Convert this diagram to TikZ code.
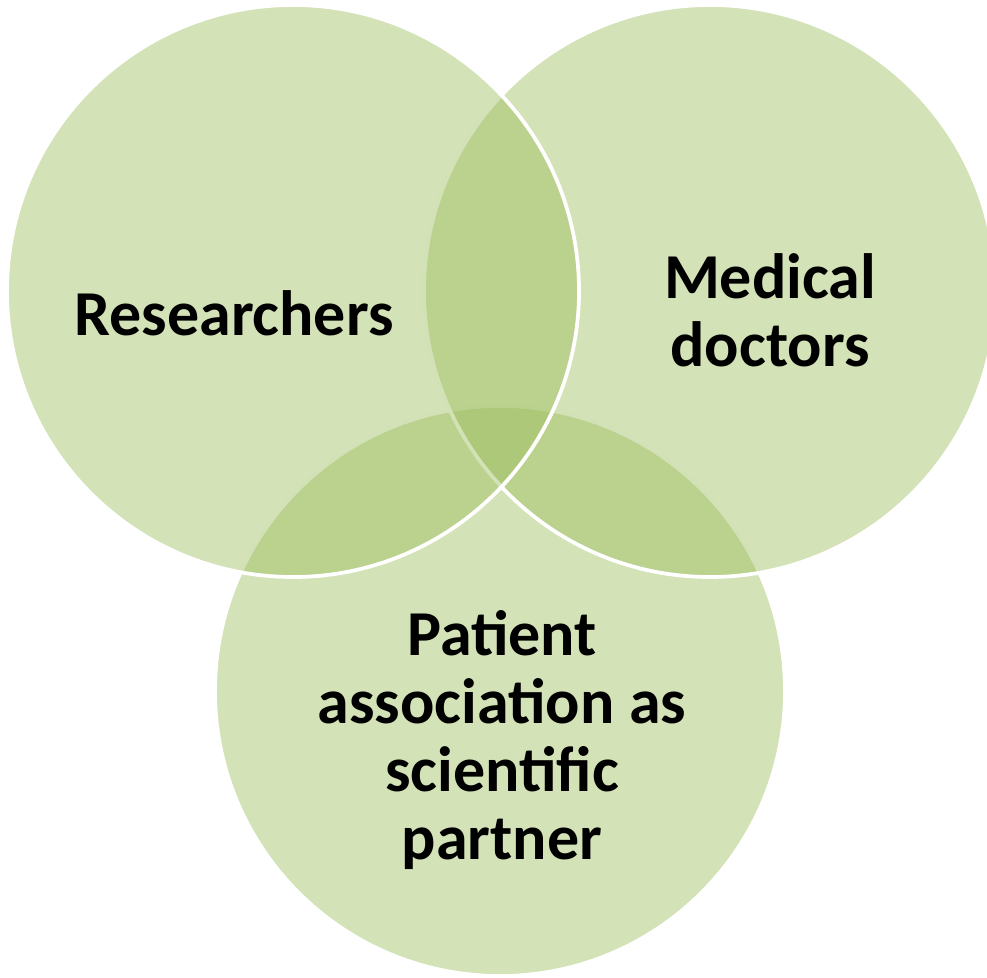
\documentclass[tikz,border=0pt]{standalone}
\usepackage{fontspec}
\setmainfont{Carlito}
\definecolor{verdecerchio}{HTML}{9BBB59}
\tikzset{
  cerchio/.style={fill=verdecerchio, fill opacity=0.43, draw=white, line width=2.8pt},
  etichetta/.style={font=\fontsize{48}{51}\selectfont\bfseries, align=center, text=black}
}
\begin{document}
\begin{tikzpicture}[x=0.75pt,y=-0.75pt]
  \useasboundingbox (0,0) rectangle (987,977);
  \clip (0,0) rectangle (987,977);

  % Disegna i cerchi
  \filldraw[cerchio] (500,691) circle (213.75pt);
  \filldraw[cerchio] (710,291) circle (214.5pt);
  \filldraw[cerchio] (293,291) circle (214.5pt);

  % Etichette
  \node[etichetta] (ricercatori) at (234,313) {Researchers};
  \node[etichetta] (medici) at (770,310) {Medical\\doctors};
  \node[etichetta] (pazienti) at (502,740) {Patient\\association as\\scientific\\partner};
\end{tikzpicture}
\end{document}
